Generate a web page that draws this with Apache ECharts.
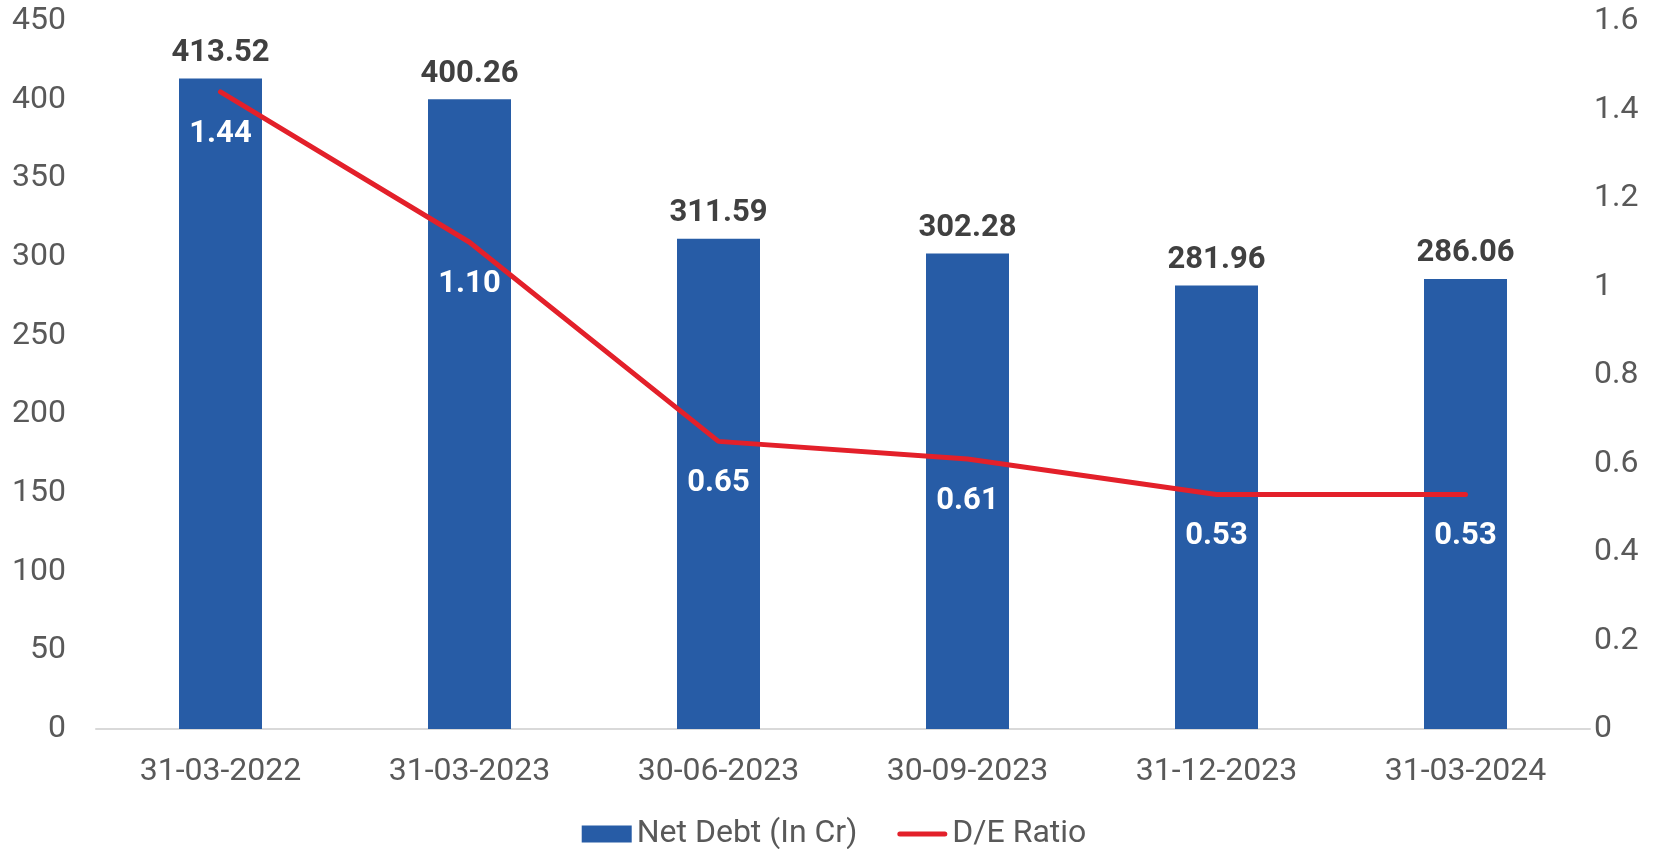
<!DOCTYPE html>
<html>
<head>
<meta charset="utf-8">
<script src="https://cdn.jsdelivr.net/npm/echarts@6/dist/echarts.min.js"></script>
<style>
html, body { margin: 0; padding: 0; background: #fff; }
#chart { width: 1668px; height: 849px; }
</style>
</head>
<body>
<div id="chart"></div>
<script>
// 数据
var dates = ['31-03-2022', '31-03-2023', '30-06-2023', '30-09-2023', '31-12-2023', '31-03-2024'];
var netDebt = [413.52, 400.26, 311.59, 302.28, 281.96, 286.06];
var deRatio = [1.44, 1.10, 0.65, 0.61, 0.53, 0.53];
var leftTicks = [0, 450, 50];
var rightTicks = [0, 1.6, 0.2];

var chart = echarts.init(document.getElementById('chart'));

var option = {
	backgroundColor: '#fff',
	animation: false,
	textStyle: { fontFamily: 'Roboto' },
	grid: {
		left: 96,
		right: 78,
		top: 21,
		bottom: 120
	},
	legend: {
		bottom: -6,
		left: 'center',
		itemWidth: 50,
		itemHeight: 17,
		itemGap: 40,
		textStyle: { color: '#595959', fontSize: 32, fontFamily: 'Roboto' },
		data: [
			{ name: 'Net Debt (In Cr)', icon: 'rect' },
			{ name: 'D/E Ratio', icon: 'path://M2.5,0 h45 a2.5,2.5 0 0 1 0,5 h-45 a2.5,2.5 0 0 1 0,-5 z', itemStyle: { color: '#e3202a' } }
		]
	},
	xAxis: {
		type: 'category',
		data: dates,
		axisLine: { lineStyle: { color: '#d9d9d9', width: 2 } },
		axisTick: { show: false },
		axisLabel: { color: '#595959', fontSize: 32, margin: 27 }
	},
	yAxis: [{
		type: 'value',
		min: leftTicks[0],
		max: leftTicks[1],
		interval: leftTicks[2],
		splitLine: { show: false },
		axisLine: { show: false },
		axisLabel: { color: '#595959', fontSize: 32, margin: 30 }
	}, {
		type: 'value',
		min: rightTicks[0],
		max: rightTicks[1],
		interval: rightTicks[2],
		splitLine: { show: false },
		axisLine: { show: false },
		axisLabel: {
			color: '#595959',
			fontSize: 32,
			margin: 4,
			formatter: function(v) { return String(Math.round(v * 10) / 10); }
		}
	}],
	series: [{
		name: 'Net Debt (In Cr)',
		type: 'bar',
		data: netDebt,
		barWidth: 83,
		itemStyle: { color: '#275ca6' },
		label: {
			show: true,
			position: 'top',
			distance: 10,
			color: '#404040',
			fontSize: 31,
			fontWeight: 'bold',
			formatter: function(p) { return p.value.toFixed(2); }
		}
	}, {
		name: 'D/E Ratio',
		type: 'line',
		yAxisIndex: 1,
		data: deRatio,
		symbol: 'circle',
		symbolSize: 1,
		lineStyle: { color: '#e3202a', width: 5, cap: 'round' },
		itemStyle: { color: 'rgba(0,0,0,0)' },
		label: {
			show: true,
			position: 'bottom',
			distance: 26,
			color: '#fff',
			fontSize: 31,
			fontWeight: 'bold',
			formatter: function(p) { return p.value.toFixed(2); }
		}
	}]
};

chart.setOption(option);
</script>
</body>
</html>
